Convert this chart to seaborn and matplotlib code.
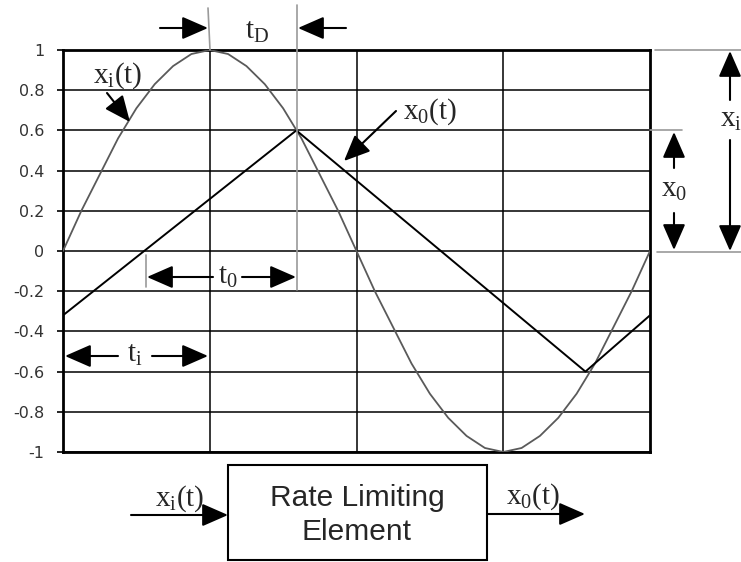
import matplotlib.pyplot as plt
import pandas as pd
import seaborn as sns
from matplotlib.lines import Line2D
from matplotlib.patches import Rectangle

# input signal x_i(t), sampled every 1/8 of a grid column
t_in = [i / 8 for i in range(33)]
x_in = [0, 0.2, 0.38, 0.56, 0.71, 0.83, 0.92, 0.98, 1,
        0.98, 0.92, 0.83, 0.71, 0.56, 0.38, 0.2, 0,
        -0.2, -0.38, -0.56, -0.71, -0.83, -0.92, -0.98, -1,
        -0.98, -0.92, -0.83, -0.71, -0.56, -0.38, -0.2, 0]

# rate limited output x_0(t)
t_out = [0, 1.59, 3.56, 4]
x_out = [-0.32, 0.6, -0.6, -0.32]

y_ticks = [1, 0.8, 0.6, 0.4, 0.2, 0, -0.2, -0.4, -0.6, -0.8, -1]
y_labels = ['1', '0.8', '0.6', '0.4', '0.2', '0', '-0.2', '-0.4', '-0.6', '-0.8', '-1']

sns.set_style('white')
plt.rcParams['font.family'] = ['Liberation Sans', 'DejaVu Sans']
plt.rcParams['mathtext.fontset'] = 'custom'
plt.rcParams['mathtext.rm'] = 'Liberation Serif'
plt.rcParams['mathtext.it'] = 'Liberation Serif:italic'

W, H = 741, 562
fig = plt.figure(figsize=(W / 100, H / 100), dpi=100)
ax = fig.add_axes([63 / W, 1 - 452 / H, 587 / W, 402 / H])

df_in = pd.DataFrame({'t': t_in, 'x': x_in})
df_out = pd.DataFrame({'t': t_out, 'x': x_out})
sns.lineplot(data=df_in, x='t', y='x', ax=ax, color='#5a5a5a', lw=1.3, zorder=3)
sns.lineplot(data=df_out, x='t', y='x', ax=ax, color='black', lw=1.4, zorder=4)

ax.set_xlim(0, 4)
ax.set_ylim(-1, 1)
ax.set_xticks([1, 2, 3])
ax.set_xticklabels([])
ax.set_yticks(y_ticks)
ax.set_yticklabels(y_labels, fontsize=11.5, color='#333333', family='DejaVu Sans')
ax.tick_params(axis='x', length=0)
ax.tick_params(axis='y', length=4.5, width=1.2, color='black', pad=9, left=True)
ax.grid(True, color='black', lw=1.1)
ax.set_xlabel('')
ax.set_ylabel('')
for s in ax.spines.values():
    s.set_visible(True)
    s.set_color('black')
    s.set_linewidth(2)


def P(x, y):
    return (x / W, 1 - y / H)


def arrow(x0, y0, x1, y1):
    ax.annotate('', xy=P(x1, y1), xytext=P(x0, y0), xycoords='figure fraction',
                textcoords='figure fraction', annotation_clip=False,
                arrowprops=dict(arrowstyle='-|>,head_length=0.8,head_width=0.35',
                                mutation_scale=20, lw=1.5, color='black',
                                shrinkA=0, shrinkB=0))


def line(xs, ys, color='#9a9a9a', lw=1.2):
    fig.add_artist(Line2D([x / W for x in xs], [1 - y / H for y in ys],
                          transform=fig.transFigure, color=color, lw=lw))


def label(x, y, s, size=21):
    fig.text(x / W, 1 - y / H, s, fontsize=size, ha='center', va='center')


# t_D marker at top
line([208, 210], [8, 50])
line([297, 297], [5, 290])
arrow(160, 28, 208, 28)
arrow(346, 28, 298, 28)
label(257, 31, r'$\mathrm{t_D}$')

# curve labels
label(118, 76, r'$\mathrm{x_i(t)}$')
arrow(107, 93, 130, 122)
label(430, 112, r'$\mathrm{x_0(t)}$')
arrow(396, 111, 344, 161)

# t_0 and t_i spans
line([146, 146], [255, 287])
arrow(213, 277, 147, 277)
arrow(242, 277, 296, 277)
label(228, 276, r'$\mathrm{t_0}$')
arrow(118, 356, 65, 356)
arrow(152, 356, 208, 356)
label(135, 354, r'$\mathrm{t_i}$')

# amplitude markers on the right
line([655, 741], [50, 50])
line([650, 682], [130, 130])
line([657, 741], [252, 252])
arrow(674, 168, 674, 132)
arrow(674, 213, 674, 250)
label(674, 189, r'$\mathrm{x_0}$')
arrow(730, 100, 730, 51)
arrow(730, 140, 730, 251)
label(731, 119, r'$\mathrm{x_i}$')

# block diagram
fig.add_artist(Rectangle(P(228, 560), 259 / W, 95 / H, transform=fig.transFigure,
                         fill=False, ec='black', lw=1.5))
fig.text(357 / W, 1 - 515 / H, 'Rate Limiting\nElement', fontsize=21.5,
         ha='center', va='center', linespacing=1.25)
arrow(131, 515, 228, 515)
label(180, 499, r'$\mathrm{x_i(t)}$')
arrow(487, 514, 585, 514)
label(533, 497, r'$\mathrm{x_0(t)}$')

fig.savefig('out.png', dpi=100)
